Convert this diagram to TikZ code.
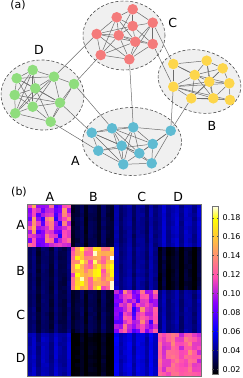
\documentclass[tikz,border=0pt]{standalone}
\usepackage{fontspec}
\setmainfont{DejaVu Sans}
\usetikzlibrary{calc}

\definecolor{clA}{HTML}{5FBBD2}
\definecolor{clB}{HTML}{FDD64B}
\definecolor{clC}{HTML}{F47B7B}
\definecolor{clD}{HTML}{8FDD7D}

\pgfdeclarelayer{blobs}
\pgfdeclarelayer{links}
\pgfsetlayers{blobs,links,main}

% gnuplot2-like colour map, value range 0.0147 .. 0.192
\newcommand\setheat[1]{%
  \pgfmathsetmacro\hmx{max(0,min(1,(#1-0.0147)/0.1773))}%
  \pgfmathsetmacro\hmr{max(0,min(1,\hmx/0.32-0.78125))}%
  \pgfmathsetmacro\hmg{max(0,min(1,2*\hmx-0.84))}%
  \pgfmathsetmacro\hmb{\hmx<0.25 ? 4*\hmx : (\hmx<0.92 ? 1.84-2*\hmx : \hmx/0.08-11.5)}%
  \pgfmathsetmacro\hmb{max(0,min(1,\hmb))}%
  \definecolor{heatc}{rgb}{\hmr,\hmg,\hmb}}

\tikzset{
  vtx/.style={circle,inner sep=0pt,minimum size=10.6pt},
  blob/.style={draw=black!70,fill=black!6,line width=0.6pt,dash pattern=on 3pt off 2pt},
  link/.style={draw=black!58,line width=0.5pt},
  lab/.style={font=\fontsize{12.5}{12.5}\selectfont},
  tick/.style={font=\fontsize{8}{8}\selectfont,anchor=west,inner sep=0pt},
}

\begin{document}
\begin{tikzpicture}[x=1pt,y=-1pt]
  \useasboundingbox (0,0) rectangle (243,378);

  % ---- (a) the four communities
  \node[font=\fontsize{11}{11}\selectfont] (pa) at (18,5.5) {(a)};

  \begin{pgfonlayer}{blobs}
    \draw[blob] (132,141.5) ellipse [x radius=49.5pt, y radius=34pt];
    \draw[blob,rotate around={-15:(199.5,81.5)}] (199.5,81.5) ellipse [x radius=42pt, y radius=31pt];
    \draw[blob] (124,35.5) ellipse [x radius=41pt, y radius=34.5pt];
    \draw[blob,rotate around={-3:(42.5,95)}] (42.5,95) ellipse [x radius=41.5pt, y radius=35pt];
  \end{pgfonlayer}

  \foreach \n/\x/\y in {1/91.7/132.7, 2/112/128.3, 3/133.3/127.3, 4/170.7/130.7, 5/98.3/150.7,
                        6/121.7/145.7, 7/152.7/144, 8/139.3/153.3, 9/123.3/164.3, 10/151.7/163.3}
    \node[vtx,fill=clA] (a\n) at (\x,\y) {};
  \foreach \n/\x/\y in {1/173.3/64, 2/206.7/60.7, 3/222.7/68.3, 4/194.7/75, 5/209.3/81.7,
                        6/229.3/83.3, 7/173.3/86.7, 8/191.3/98.3, 9/213.3/98.3, 10/230/100}
    \node[vtx,fill=clB] (b\n) at (\x,\y) {};
  \foreach \n/\x/\y in {1/132.7/9.3, 2/116.7/17.3, 3/152.7/22.7, 4/132.7/26, 5/96.7/34,
                        6/118.7/35.3, 7/135.3/41.7, 8/152.7/44, 9/100.7/55, 10/129.3/59.3}
    \node[vtx,fill=clC] (c\n) at (\x,\y) {};
  \foreach \n/\x/\y in {1/32.7/70, 2/16.7/78.3, 3/54/76.7, 4/74/84, 5/35.3/88.3,
                        6/14.7/95, 7/60/102.7, 8/32.7/106.7, 9/15.3/113.3, 10/50.7/121.7}
    \node[vtx,fill=clD] (d\n) at (\x,\y) {};

  \begin{pgfonlayer}{links}
    % inside A
    \foreach \u/\v in {a1/a2,a1/a5,a1/a6,a1/a8,a1/a9,a2/a3,a2/a6,a2/a9,a2/a8,a3/a4,
                       a3/a6,a3/a7,a3/a8,a3/a9,a4/a7,a4/a10,a4/a8,a5/a6,a5/a9,a5/a7,
                       a6/a8,a6/a9,a6/a10,a7/a8,a7/a10,a8/a9,a8/a10,a9/a10,a2/a7,a1/a3}
      \draw[link] (\u) -- (\v);
    % inside B
    \foreach \u/\v in {b1/b2,b1/b4,b1/b7,b2/b3,b2/b4,b2/b5,b3/b5,b3/b6,b3/b4,b4/b7,
                       b4/b8,b4/b9,b5/b8,b5/b6,b5/b9,b6/b10,b6/b9,b7/b8,b7/b5,b7/b9,
                       b7/b10,b7/b6,b8/b9,b9/b10,b8/b10,b8/b3,b1/b5,b4/b6,b2/b9}
      \draw[link] (\u) -- (\v);
    % inside C
    \foreach \u/\v in {c1/c2,c1/c4,c1/c3,c2/c5,c2/c4,c2/c6,c4/c3,c4/c6,c4/c8,c4/c7,
                       c3/c8,c3/c7,c5/c6,c5/c9,c5/c7,c5/c10,c6/c7,c6/c9,c6/c10,c7/c8,
                       c7/c10,c7/c9,c8/c10,c9/c10,c2/c9,c1/c6,c3/c10,c4/c5,c2/c7,c6/c8}
      \draw[link] (\u) -- (\v);
    % inside D
    \foreach \u/\v in {d1/d2,d1/d3,d1/d5,d1/d6,d1/d8,d1/d9,d2/d5,d2/d6,d2/d3,d2/d8,
                       d3/d4,d3/d5,d3/d7,d3/d8,d3/d9,d4/d7,d4/d10,d5/d6,d5/d7,d5/d9,
                       d5/d10,d6/d8,d6/d9,d6/d7,d7/d8,d7/d10,d8/d9,d8/d10,d9/d10,d2/d7}
      \draw[link] (\u) -- (\v);
    % between communities
    \foreach \u/\v in {c3/b1,c8/b7,c10/a3,c5/d3,c9/d4,d4/a2,d7/a1,d10/a5,b7/a4,b8/a4}
      \draw[link] (\u) -- (\v);
  \end{pgfonlayer}

  \node[lab] (gA) at (75.3,161.3) {A};
  \node[lab] (gB) at (212,126) {B};
  \node[lab] (gC) at (172.7,22.7) {C};
  \node[lab] (gD) at (39,50) {D};

  % ---- (b) matrix, 40 x 40 cells from (27.7,204) to (201,376)
  \node[font=\fontsize{11}{11}\selectfont] (pb) at (19,192.5) {(b)};
  \pgfmathsetseed{11}
  \foreach \i in {0,...,39}{
    \foreach \j in {0,...,39}{
      \pgfmathtruncatemacro\bi{\i/10}
      \pgfmathtruncatemacro\bj{\j/10}
      \ifnum\bi=\bj
        \pgfmathsetmacro\hv{{0.105,0.15,0.105,0.12}[\bi]
          + {0.045,0.045,0.04,0.02}[\bi]*(0.5*sin(\j*97+\bi*40)+rnd-0.5)}
      \else
        \pgfmathsetmacro\hv{{0,0.026,0.038,0.045, 0.03,0,0.04,0.02,
          0.03,0.026,0,0.04, 0.044,0.016,0.05,0}[4*\bi+\bj]
          + 0.007*sin(\j*131) + 0.004*(rnd-0.5)}
      \fi
      \setheat{\hv}
      \fill[heatc] (27.7+\j*4.3325,204+\i*4.3) rectangle +(4.6,4.6);
    }
  }
  \draw[black!55,line width=0.6pt] (27.7,204) rectangle (201,376);

  \node[lab] (mA) at (50,196.7) {A};
  \node[lab] (mB) at (93.3,196.7) {B};
  \node[lab] (mC) at (141.7,196.7) {C};
  \node[lab] (mD) at (178.3,196.7) {D};
  \node[lab] (rA) at (20.7,225) {A};
  \node[lab] (rB) at (20.7,270.7) {B};
  \node[lab] (rC) at (20.7,315) {C};
  \node[lab] (rD) at (20.7,358.3) {D};

  % ---- colour bar
  \foreach \k in {0,...,167}{
    \setheat{0.0147+(\k+0.5)*0.0010535}
    \fill[heatc] (212.3,374.3-\k-1.3) rectangle (218.3,374.3-\k);
  }
  \draw[black!55,line width=0.6pt] (212.3,206) rectangle (218.3,374.3);
  \foreach \t in {0.02,0.04,0.06,0.08,0.10,0.12,0.14,0.16,0.18}{
    \pgfmathsetmacro\ty{369.3-(\t-0.02)*947.5}
    \draw[black!70,line width=0.4pt] (212.3,\ty) -- ++(1.5,0) (218.3,\ty) -- ++(-1.5,0);
    \node[tick] at (222.5,\ty) {\t};
  }
\end{tikzpicture}
\end{document}
